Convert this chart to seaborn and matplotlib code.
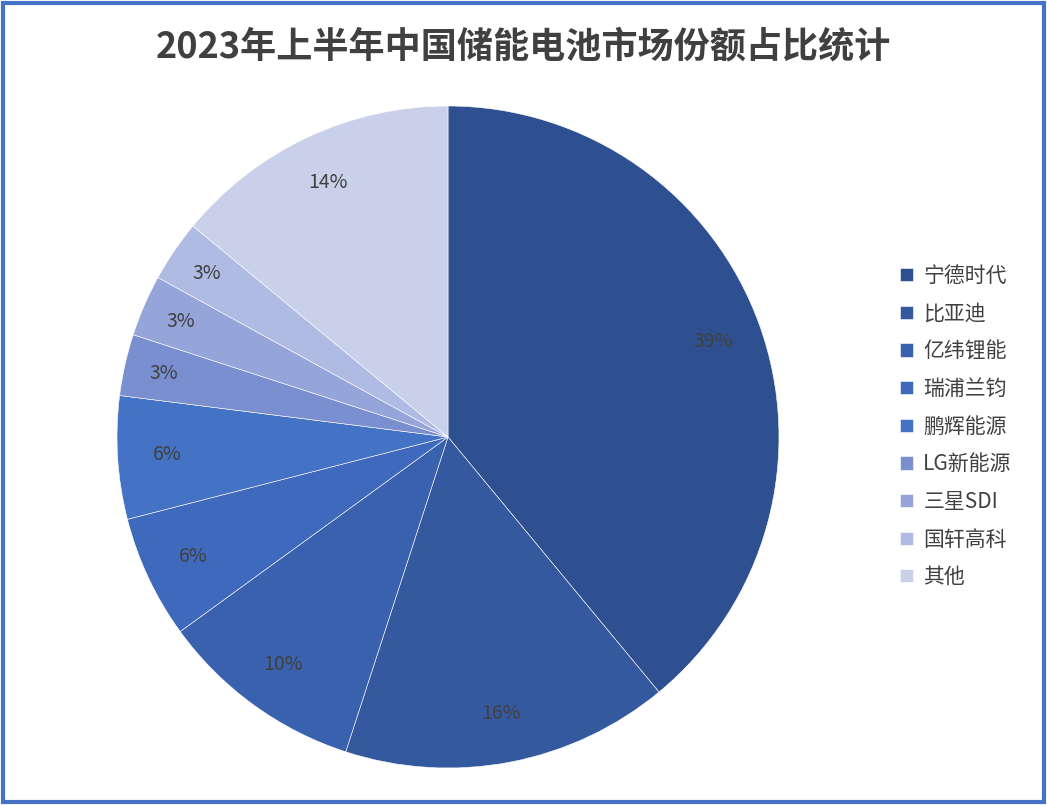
import matplotlib
matplotlib.use("Agg")
import matplotlib.pyplot as plt
import numpy as np
import seaborn as sns
from matplotlib.patches import Rectangle

sns.set_theme(style="white")
plt.rcParams['font.family'] = ['Noto Sans CJK SC', 'DejaVu Sans']

# data
companies = ["宁德时代", "比亚迪", "亿纬锂能", "瑞浦兰钧", "鹏辉能源", "LG新能源", "三星SDI", "国轩高科", "其他"]
shares = [39, 16, 10, 6, 6, 3, 3, 3, 14]
colors = ["#2F5090", "#35599F", "#3A61AE", "#3F69BC", "#4472C4", "#7A8FD0", "#95A4D9", "#B0BBE3", "#C9D0EA"]

fig = plt.figure(figsize=(10.47, 8.05), dpi=100)
fig.patches.append(Rectangle((0.003, 0.004), 0.994, 0.992, transform=fig.transFigure,
                             fill=False, edgecolor="#4472C4", linewidth=3))

ax = fig.add_axes([(448 - 331) / 1047, 1 - (437 + 331) / 805, 662 / 1047, 662 / 805])
wedges, texts = ax.pie(shares, colors=colors, startangle=90, counterclock=False,
                       wedgeprops=dict(edgecolor="white", linewidth=0.4))
for w, v in zip(wedges, shares):
    ang = np.deg2rad((w.theta1 + w.theta2) / 2)
    r = 0.88 if v < 5 else 0.85
    ax.text(r * np.cos(ang), r * np.sin(ang), f"{v}%", ha="center", va="center",
            fontsize=14, color="#404040")
ax.set_xlim(-1, 1)
ax.set_ylim(-1, 1)
ax.set_aspect("equal")

fig.text(0.5, 0.942, "2023年上半年中国储能电池市场份额占比统计", ha="center", va="center",
         fontsize=26, fontweight="bold", color="#404040")

fig.legend(wedges, companies, loc="center left", bbox_to_anchor=(0.842, 0.47),
           frameon=False, fontsize=15, handlelength=0.6, handleheight=0.6,
           labelspacing=0.75, handletextpad=0.5, labelcolor="#404040")

fig.savefig("out.png", dpi=100)
